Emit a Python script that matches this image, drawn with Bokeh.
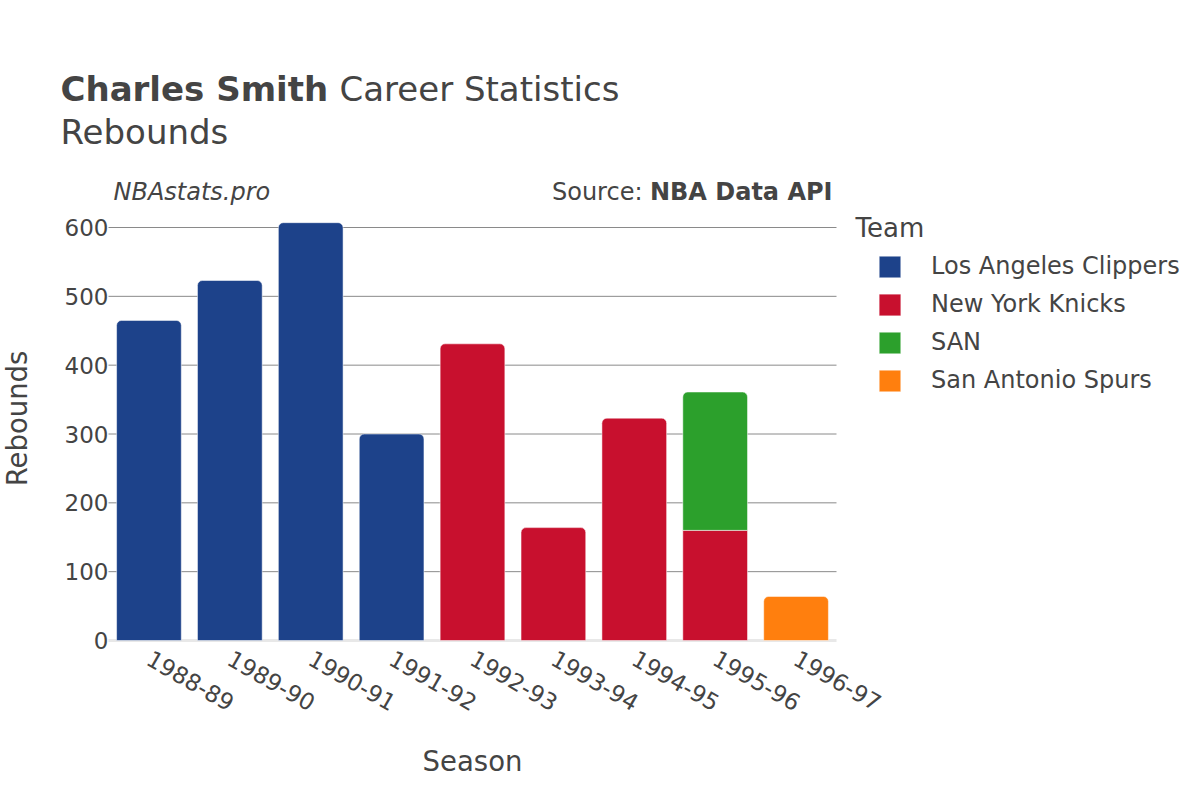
import math
from bokeh.plotting import figure
from bokeh.models import (ColumnDataSource, Range1d, FixedTicker, Label,
                          Legend, LegendItem)
from bokeh.embed import file_html
from bokeh.resources import INLINE

# ---- data ----
seasons = ["1988-89", "1989-90", "1990-91", "1991-92", "1992-93",
           "1993-94", "1994-95", "1995-96", "1996-97"]
teams = ["Los Angeles Clippers", "New York Knicks", "SAN", "San Antonio Spurs"]
lac = [465, 523, 607, 300, 0, 0, 0, 0, 0]
nyk = [0, 0, 0, 0, 431, 164, 323, 160, 0]
san = [0, 0, 0, 0, 0, 0, 0, 201, 0]
sas = [0, 0, 0, 0, 0, 0, 0, 0, 64]
y_ticks = [0, 100, 200, 300, 400, 500, 600]
colors = ["#1D428A", "#C8102E", "#2CA02C", "#FF7F0E"]

series = [lac, nyk, san, sas]
FONT = "DejaVu Sans"
TXT = "#444444"
n = len(seasons)
x_pos = [i + 0.5 for i in range(n)]

# layout constants (pixels of the 1200x800 canvas)
W, H = 1200, 800
PLOT_L, PLOT_R = 108, 836          # bar area, left/right
PLOT_ZERO, PLOT_600 = 640, 227     # pixel rows of y=0 and y=600
px_x = (PLOT_R - PLOT_L) / n
px_y = (PLOT_ZERO - PLOT_600) / 600.0
x_start = -PLOT_L / px_x
x_end = x_start + W / px_x
y_start = -(H - PLOT_ZERO) / px_y
y_end = PLOT_ZERO / px_y

p = figure(width=W, height=H, output_backend="svg", toolbar_location=None,
           x_range=Range1d(x_start, x_end), y_range=Range1d(y_start, y_end),
           min_border_left=0, min_border_right=0,
           min_border_top=0, min_border_bottom=0)
p.outline_line_color = None
p.xgrid.visible = False
p.ygrid.visible = False

# grid lines over the bar area, zero line lighter
grid_vals = y_ticks[1:]
p.segment(x0=[0] * len(grid_vals), x1=[n] * len(grid_vals), y0=grid_vals, y1=grid_vals,
          line_color="#8a8a8a", line_width=1)
p.segment(x0=[0], x1=[n], y0=[y_ticks[0]], y1=[y_ticks[0]],
          line_color="#e8e8e8", line_width=3)

# stacked bars
bottoms = [0] * n
legend_items = []
for ti, (team, vals, col) in enumerate(zip(teams, series, colors)):
    top_rows = {"x": [], "bottom": [], "top": []}
    mid_rows = {"x": [], "bottom": [], "top": []}
    for si, v in enumerate(vals):
        if v <= 0:
            continue
        above = sum(series[tj][si] for tj in range(ti + 1, len(series)))
        target = top_rows if above == 0 else mid_rows
        target["x"].append(x_pos[si])
        target["bottom"].append(bottoms[si])
        target["top"].append(bottoms[si] + v)
        bottoms[si] += v
    rends = []
    if top_rows["x"]:
        rends.append(p.vbar(x="x", bottom="bottom", top="top", width=0.8,
                            source=ColumnDataSource(top_rows), fill_color=col,
                            line_color="white", line_alpha=0.5, line_width=1,
                            border_radius=(5, 5, 0, 0)))
    if mid_rows["x"]:
        rends.append(p.vbar(x="x", bottom="bottom", top="top", width=0.8,
                            source=ColumnDataSource(mid_rows), fill_color=col,
                            line_color="white", line_alpha=0.5, line_width=1))
    legend_items.append(LegendItem(label=team, renderers=rends))

# axes (labels pulled inwards so the frame can span the whole canvas)
p.xaxis.ticker = FixedTicker(ticks=x_pos)
p.xaxis.major_label_overrides = {x: s for x, s in zip(x_pos, seasons)}
p.yaxis.ticker = FixedTicker(ticks=y_ticks)
for ax in (p.xaxis[0], p.yaxis[0]):
    ax.axis_line_color = None
    ax.major_tick_line_color = None
    ax.minor_tick_line_color = None
    ax.major_tick_out = 0
    ax.major_tick_in = 0
    ax.minor_tick_out = 0
    ax.minor_tick_in = 0
    ax.major_label_text_font = FONT
    ax.major_label_text_font_size = "23px"
    ax.major_label_text_color = TXT
p.yaxis.major_label_standoff = -(PLOT_L - 4 + 4)
p.xaxis.major_label_standoff = 16 - (H - PLOT_ZERO)
p.xaxis.major_label_orientation = -math.pi / 6

# legend
legend = Legend(items=legend_items, location=(876, H - 394), orientation="vertical",
                glyph_width=27, glyph_height=27, label_height=22,
                label_standoff=28, spacing=10, padding=0, margin=0,
                border_line_color=None, background_fill_alpha=0,
                label_text_font=FONT, label_text_font_size="24px",
                label_text_color=TXT)
p.add_layout(legend, "center")


def lab(text, x, y, size, style="normal", align="left", angle=0):
    # x, y: pixel position from the canvas top-left (text vertically centred)
    p.add_layout(Label(text=text, x=x, y=H - y, x_units="screen", y_units="screen",
                       text_font=FONT, text_font_size=size, text_font_style=style,
                       text_color=TXT, text_align=align, text_baseline="middle",
                       angle=angle))


lab("Charles Smith", 60, 88, "34px", style="bold")
lab("Career Statistics", 339, 88, "34px")
lab("Rebounds", 60, 131, "34px")
lab("NBAstats.pro", 113, 191, "24px", style="italic")
lab("NBA Data API", 832, 191, "24px", style="bold", align="right")
lab("Source:", 642, 191, "24px", align="right")
lab("Team", 855, 227, "26px")
lab("Season", 472, 760, "27.5px", align="center")
lab("Rebounds", 16, 418, "27.5px", align="center", angle=math.pi / 2)

open("out.html", "w").write(file_html(p, INLINE))
